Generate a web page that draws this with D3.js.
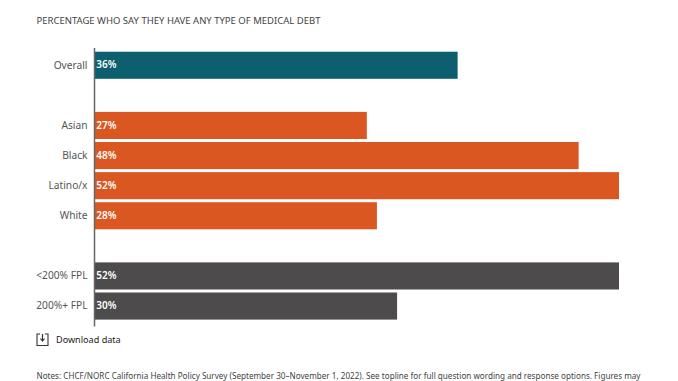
<!DOCTYPE html>
<html>
<head>
<meta charset="utf-8">
<script src="https://cdn.jsdelivr.net/npm/d3@7"></script>
<style>
  html, body { margin: 0; padding: 0; background: #fff; overflow: hidden; }
  text { font-family: "Noto Sans", sans-serif; }
</style>
</head>
<body>
<div id="figure-holder"></div>
<script>
const categories = ["Overall", "gap1", "Asian", "Black", "Latino/x", "White", "gap2", "<200% FPL", "200%+ FPL"]
const labelled = ["Overall", "Asian", "Black", "Latino/x", "White", "<200% FPL", "200%+ FPL"]
const values = [36, 27, 48, 52, 28, 52, 30]
const groups = ["all", "race", "race", "race", "race", "income", "income"]

const groupColor = d3.scaleOrdinal()
    .domain(["all", "race", "income"])
    .range(["#0b5f6f", "#da5722", "#4d4b4c"])

const titleText = "PERCENTAGE WHO SAY THEY HAVE ANY TYPE OF MEDICAL DEBT"
const notesText = "Notes:  CHCF/NORC California Health Policy Survey (September 30–November 1, 2022). See topline for full question wording and response options. Figures may"

const svg = d3.select("#figure-holder").append("svg")
    .attr("width", 678)
    .attr("height", 381)

const x = d3.scaleLinear().domain([0, 52]).range([94.5, 619])
const y = d3.scaleBand().domain(categories).range([48.7, 322.6]).paddingInner(0.1).paddingOuter(0.1)

// bars
svg.selectAll("rect.bar")
    .data(labelled)
    .enter()
    .append("rect")
    .attr("class", "bar")
    .attr("x", x(0))
    .attr("y", d => y(d))
    .attr("width", (d, i) => x(values[i]) - x(0))
    .attr("height", y.bandwidth())
    .style("fill", (d, i) => groupColor(groups[i]))

// value labels inside the bars
svg.selectAll("text.value")
    .data(labelled)
    .enter()
    .append("text")
    .attr("class", "value")
    .attr("x", x(0) + 1.8)
    .attr("y", d => y(d) + y.bandwidth() / 2 + 3.2)
    .style("font-size", "10px")
    .style("font-weight", "600")
    .style("fill", "#fff")
    .text((d, i) => values[i] + "%")

// category axis, blank rows get no label
const yAxis = svg.append("g")
    .attr("transform", `translate(${x(0)}, 0)`)
    .call(d3.axisLeft(y).tickSize(0).tickPadding(7).tickFormat(d => labelled.includes(d) ? d : ""))
yAxis.select(".domain")
    .attr("d", "M0,48V326.5")
    .style("stroke", "#666")
    .style("stroke-width", 1.5)
yAxis.selectAll("text")
    .style("font-family", '"Noto Sans", sans-serif')
    .style("font-size", "10.2px")
    .style("fill", "#555")

svg.append("text")
    .attr("x", 36.5)
    .attr("y", 24)
    .style("font-size", "9.5px")
    .style("fill", "#444")
    .text(titleText)

// download icon
const icon = svg.append("g").attr("transform", "translate(37, 334)")
icon.append("path")
    .attr("d", "M3,0H0V11.5H11V0H8")
    .style("fill", "none")
    .style("stroke", "#333")
    .style("stroke-width", 1.1)
icon.append("path")
    .attr("d", "M5.5,0V6.5M3.5,4.5L5.5,7L7.5,4.5")
    .style("fill", "none")
    .style("stroke", "#333")
    .style("stroke-width", 1.2)

svg.append("text")
    .attr("x", 56)
    .attr("y", 342.5)
    .style("font-size", "9.1px")
    .style("fill", "#222")
    .text("Download data")

svg.append("text")
    .attr("x", 36.5)
    .attr("y", 379)
    .style("font-size", "8.15px")
    .style("fill", "#444")
    .text(notesText)
</script>
</body>
</html>
